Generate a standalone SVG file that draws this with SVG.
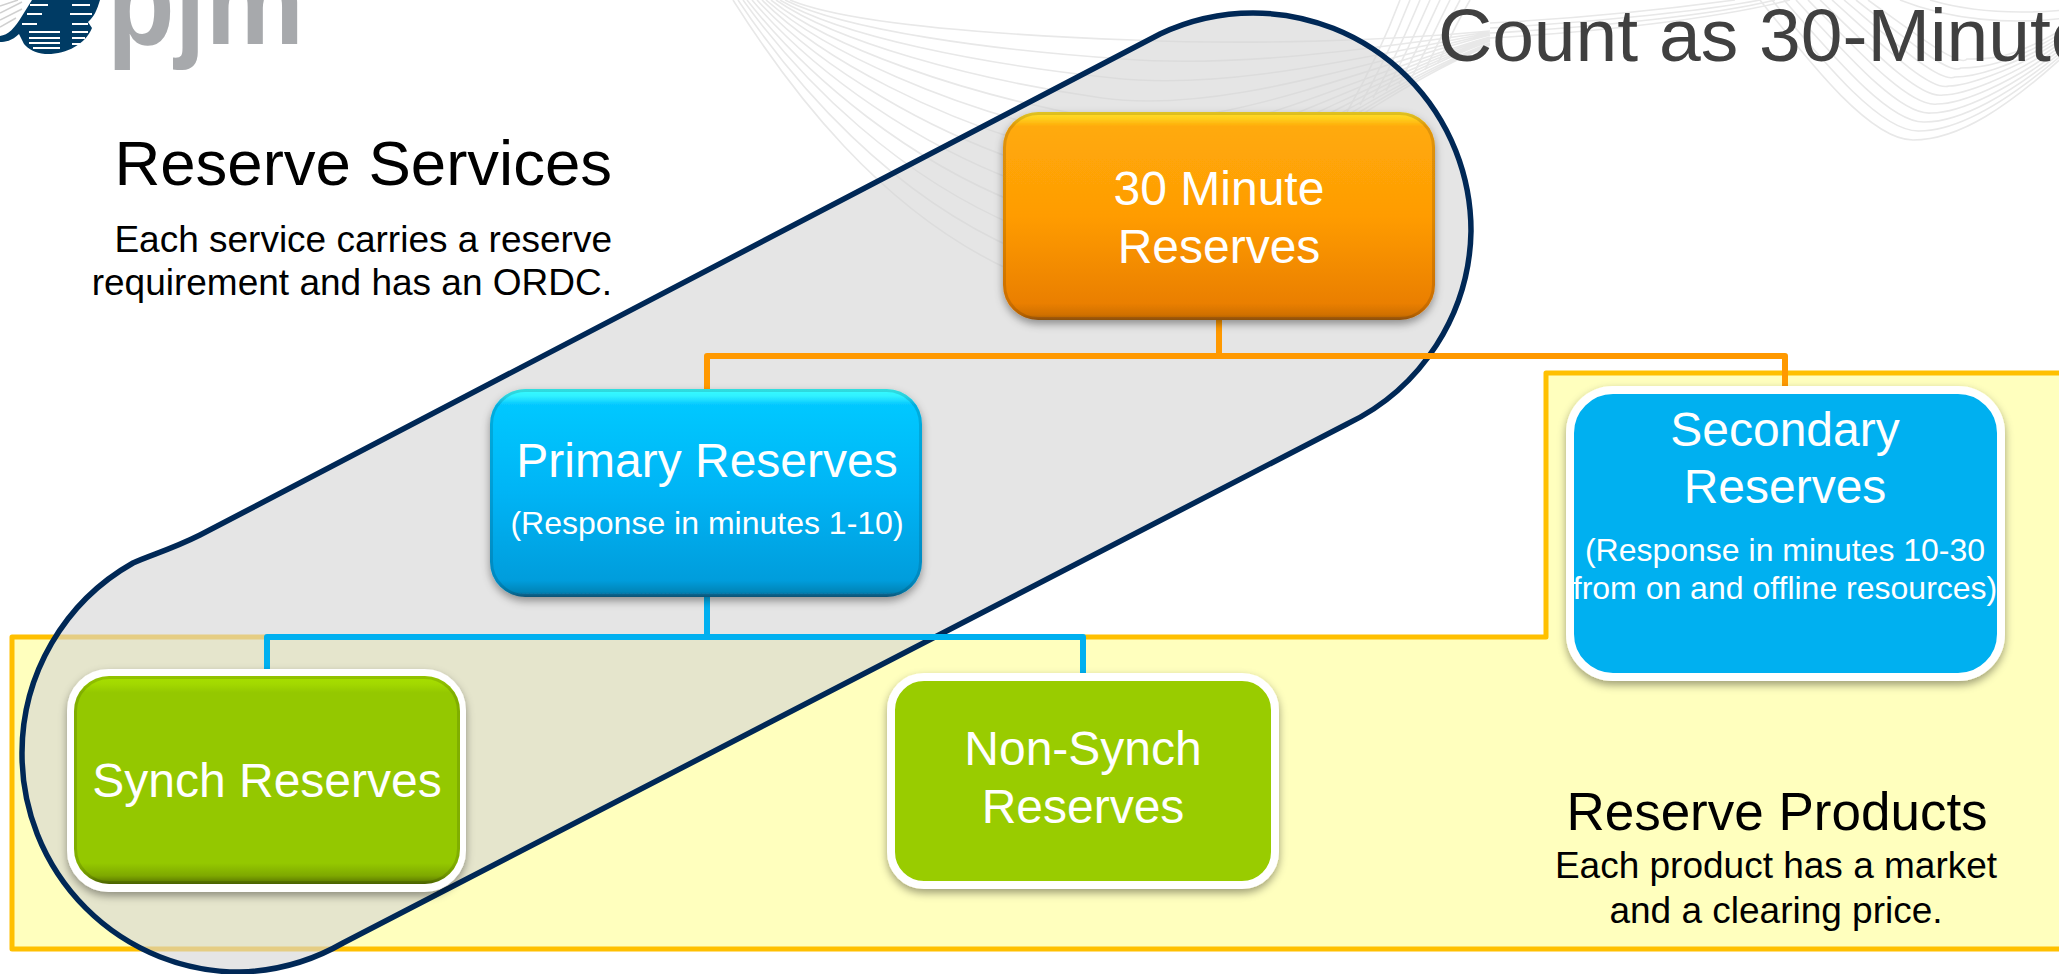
<svg xmlns="http://www.w3.org/2000/svg" width="2059" height="974" viewBox="0 0 2059 974">
<style>
text{font-family:"Liberation Sans",Arial,sans-serif}
.w{fill:#fff;text-anchor:middle}
.k{fill:#000;text-anchor:end}
.m{fill:#000;text-anchor:middle}
.l{font-size:48px}
.s{font-size:32px}
.wave{fill:none;stroke:#e8e8e8;stroke-width:1.6}
.c1{fill:none;stroke:#ff9900;stroke-width:6;stroke-linejoin:round}
.c2{fill:none;stroke:#00b0f0;stroke-width:6;stroke-linejoin:round}
.edge{fill:none;stroke:#000;stroke-opacity:.13;stroke-width:3}
</style>
<defs>
<linearGradient id="go" x1="0" y1="0" x2="0" y2="1"><stop offset="0" stop-color="#ffe028"/><stop offset=".03" stop-color="#ffd01e"/><stop offset=".07" stop-color="#ffaa08"/><stop offset=".5" stop-color="#ff9c05"/><stop offset=".92" stop-color="#ea7f03"/><stop offset=".975" stop-color="#d07000"/><stop offset="1" stop-color="#a05c10"/></linearGradient>
<linearGradient id="gb" x1="0" y1="0" x2="0" y2="1"><stop offset="0" stop-color="#38ffff"/><stop offset=".035" stop-color="#30f0ff"/><stop offset=".075" stop-color="#06c8ff"/><stop offset=".5" stop-color="#05b4f5"/><stop offset=".92" stop-color="#059ddc"/><stop offset=".975" stop-color="#0585b8"/><stop offset="1" stop-color="#0a5f88"/></linearGradient>
<linearGradient id="gg" x1="0" y1="0" x2="0" y2="1"><stop offset="0" stop-color="#a8e000"/><stop offset=".04" stop-color="#a2d800"/><stop offset=".08" stop-color="#94c800"/><stop offset=".9" stop-color="#94c800"/><stop offset=".96" stop-color="#7ea800"/><stop offset="1" stop-color="#557000"/></linearGradient>
<filter id="sh" x="-10%" y="-10%" width="120%" height="125%"><feDropShadow dx="0" dy="4" stdDeviation="4" flood-color="#000" flood-opacity=".38"/></filter>
</defs>

<g id="background">
<path class="wave" d="M733 0C790 90 880 210 1010 270C1130 320 1300 125 1490 45M738 0C795 85 890 195 1020 251C1140 297 1307 118 1490 44M743 0C800 79 900 181 1031 232C1150 274 1314 111 1490 43M747 0C805 74 910 166 1041 212C1160 251 1321 104 1490 41M752 0C810 68 920 152 1051 193C1170 228 1328 97 1490 40M757 0C815 63 930 137 1061 174C1180 205 1335 90 1490 39M762 0C820 58 940 122 1072 155C1190 182 1342 83 1490 38M766 0C825 52 950 108 1082 136C1200 160 1349 76 1490 37M771 0C830 47 960 93 1092 117C1210 137 1356 69 1490 35M776 0C835 41 970 79 1102 98C1220 114 1363 62 1490 34M780 0C840 36 980 64 1113 78C1230 91 1370 55 1490 33M785 0C845 30 990 50 1123 59C1240 68 1377 48 1490 32M790 0C850 25 1000 35 1133 40C1250 45 1384 41 1490 31"/>
<path class="wave" d="M1400 0C1385 40 1365 80 1347 112M1410 0C1395 38 1378 74 1360 105M1420 0C1405 36 1390 68 1373 98M1430 0C1415 34 1402 62 1386 91M1440 0C1425 32 1414 56 1399 84M1450 0C1435 30 1426 50 1412 77M1460 0C1445 28 1438 44 1425 70M1470 0C1455 26 1450 38 1438 63"/>
<path class="wave" d="M1760 0C1810 63 1870 140 1913 140C1960 140 2010 105 2065 55M1772 0C1822 60 1880 132 1919 131C1960 131 2010 100 2065 52M1784 0C1834 57 1890 124 1925 122C1960 122 2010 95 2065 49M1796 0C1846 54 1900 116 1931 113C1960 113 2010 90 2065 46M1808 0C1858 51 1910 108 1937 104C1960 104 2010 85 2065 43M1820 0C1870 48 1920 100 1943 95C1960 95 2010 80 2065 40M1832 0C1882 45 1930 92 1949 86C1960 86 2010 75 2065 37M1844 0C1894 42 1940 84 1955 77C1970 77 2010 70 2065 34M1856 0C1906 39 1950 76 1961 68C1980 68 2010 65 2065 31M1868 0C1918 36 1960 68 1967 59C1990 59 2010 60 2065 28"/>
<path class="wave" d="M1490 38C1600 32 1720 18 1790 0M1490 33C1600 27 1720 14 1775 0M1490 28C1600 22 1710 10 1760 0M1490 23C1590 18 1690 6 1735 0M1900 0C1950 20 2010 25 2065 18M1930 0C1970 12 2020 14 2065 10"/>
</g>

<g id="logo">
<path fill="none" stroke="#d0d0d0" stroke-width="1.500" d="M0 6L18 0M0 13L22 2M0 20L22 9M0 27L16 18"/>
<path fill="#003b64" d="M117 0H100C97 10 94 17 88 22L92 28C85 45 65 55 45 54C35 53 28 49 24 44L19 34C12 41 5 42 0 42V36C8 35 15 28 22 16L32 0Z"/>
<path fill="none" stroke="#fff" stroke-width="1.800" d="M30 5H48M27 14H42M22 24H37M29 32H60M29 38H60M29 43H60M33 48H60M72 5H90M70 14H92M72 24H88M72 32H88M72 38H85M72 44H80"/>
<text x="107" y="44" font-size="124" font-weight="700" fill="#a7a9ac" textLength="197" lengthAdjust="spacingAndGlyphs">pjm</text>
</g>

<g id="title"><text x="1438" y="61" font-size="75" fill="#404040">Count as 30-Minute</text></g>

<g id="products-region"><path d="M12 637H1546V373H2070V949H12Z" fill="#ffffbe" stroke="#ffc000" stroke-width="5" stroke-linejoin="round"/></g>
<g id="services-region"><path d="M133 563C150 555 170 550 200 535L1160 34A218 218 0 0 1 1253 13A218 218 0 0 1 1471 231A218 218 0 0 1 1347 424L343 943A218 218 0 0 1 240 972A218 218 0 0 1 22 754A218 218 0 0 1 133 563Z" fill="#d5d5d5" fill-opacity=".615" stroke="#002856" stroke-width="5.500"/></g>

<g id="connectors">
<path class="c1" d="M1219 320V356"/>
<path class="c1" d="M707 389V356H1785V389"/>
<path class="c2" d="M707 597V637"/>
<path class="c2" d="M267 677V637H1083V677"/>
</g>

<g id="node-30min">
<rect x="1003" y="112" width="432" height="208" rx="35" fill="url(#go)" filter="url(#sh)"/>
<rect class="edge" x="1004.500" y="113.500" width="429" height="205" rx="34"/>
<text class="w l" x="1219" y="205">30 Minute</text><text class="w l" x="1219" y="263">Reserves</text>
</g>
<g id="node-primary">
<rect x="490" y="389" width="432" height="208" rx="35" fill="url(#gb)" filter="url(#sh)"/>
<rect class="edge" x="491.500" y="390.500" width="429" height="205" rx="34"/>
<text class="w l" x="707" y="477">Primary Reserves</text><text class="w s" x="707" y="534">(Response in minutes 1-10)</text>
</g>
<g id="node-secondary">
<rect x="1570" y="390" width="431" height="287" rx="43" fill="#00b0f0" stroke="#fff" stroke-width="8" filter="url(#sh)"/>
<text class="w l" x="1785" y="446">Secondary</text><text class="w l" x="1785" y="503">Reserves</text>
<text class="w s" x="1785" y="561">(Response in minutes 10-30</text><text class="w s" x="1785" y="599">from on and offline resources)</text>
</g>
<g id="node-synch">
<rect x="70.500" y="672.500" width="392" height="216" rx="38" fill="#fff" stroke="#fff" stroke-width="7" filter="url(#sh)"/>
<rect x="74" y="676" width="386" height="208" rx="35" fill="url(#gg)"/>
<rect class="edge" x="75.500" y="677.500" width="383" height="205" rx="34"/>
<text class="w l" x="267" y="797">Synch Reserves</text>
</g>
<g id="node-nonsynch">
<rect x="891" y="677" width="384" height="208" rx="33" fill="#99cc00" stroke="#fff" stroke-width="8" filter="url(#sh)"/>
<text class="w l" x="1083" y="765">Non-Synch</text><text class="w l" x="1083" y="823">Reserves</text>
</g>

<g id="label-services">
<text class="k" x="612" y="185" font-size="63.500">Reserve Services</text>
<text class="k" x="612" y="252" font-size="37">Each service carries a reserve</text>
<text class="k" x="612" y="295" font-size="37">requirement and has an ORDC.</text>
</g>
<g id="label-products">
<text class="m" x="1777" y="830" font-size="53">Reserve Products</text>
<text class="m" x="1776" y="878" font-size="37">Each product has a market</text>
<text class="m" x="1776" y="923" font-size="37">and a clearing price.</text>
</g>
</svg>
